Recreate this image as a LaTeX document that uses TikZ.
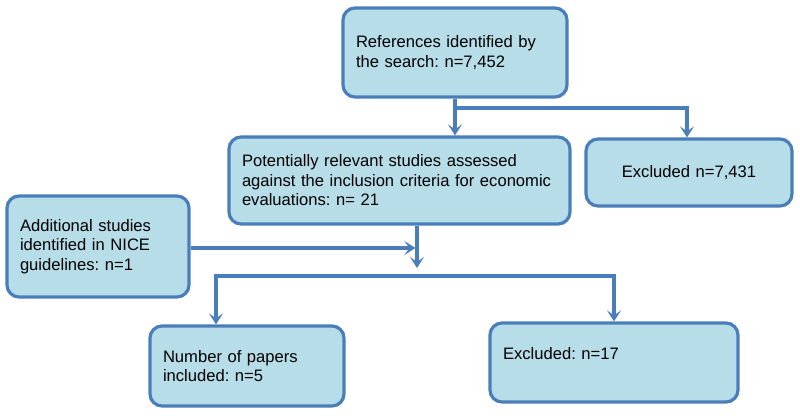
\documentclass[tikz,border=0pt]{standalone}
\usepackage{fontspec}
\setmainfont{Liberation Sans}
\usepackage{tikz}
\usetikzlibrary{arrows.meta, positioning, calc}
\definecolor{boxfill}{HTML}{B7DDE8}
\definecolor{boxline}{HTML}{4A7EBB}
\colorlet{flowline}{boxline}
\frenchspacing

\begin{document}
\begin{tikzpicture}[x=1pt, y=-1pt,
    stepbox/.style={draw=boxline, fill=boxfill, line width=3.2pt, rounded corners=12pt,
      inner xsep=13pt, inner ysep=2pt, align=left,
      font=\fontsize{16.6pt}{19.5pt}\selectfont},
    flowbar/.style={draw=flowline, line width=3.2pt},
    flow/.style={flowbar, -{Stealth[length=11pt, width=14pt, inset=5pt]}}]
    \useasboundingbox (0,0) rectangle (800,415);

    \node[stepbox, minimum width=224pt, minimum height=89pt, text width=198pt] (refs) at (455,52.5)
      {References identified by\\the search: n=7,452};
    \node[stepbox, minimum width=341pt, minimum height=87pt, text width=315pt] (assess) at (399.5,180.5)
      {Potentially relevant studies assessed\\against the inclusion criteria for economic\\evaluations: n= 21};
    \node[stepbox, align=center, minimum width=206pt, minimum height=67pt, text width=180pt] (excla) at (689,172.5)
      {Excluded n=7,431};
    \node[stepbox, minimum width=182pt, minimum height=101pt, text width=156pt] (added) at (98,246.5)
      {Additional studies\\identified in NICE\\guidelines: n=1};
    \node[stepbox, minimum width=194pt, minimum height=80pt, text width=168pt] (incl) at (247,366)
      {Number of papers\\included: n=5};
    \node[stepbox, minimum width=248pt, minimum height=79pt, text width=222pt, text depth=18pt] (exclb) at (614,362.5)
      {Excluded: n=17};

    \coordinate (splita) at (455,108);
    \draw[flowbar] (refs.south) -- (splita);
    \draw[flow] (splita) -- (splita |- assess.north);
    \draw[flow] (splita) -| ([xshift=-2pt]excla.north);

    \coordinate (drop) at (417,268);
    \draw[flow] (assess.south -| drop) -- (drop);
    \draw[flow, shorten >=1.6pt] ([yshift=-1.5pt]added.east) -- ([yshift=-1.5pt]added.east -| drop);

    \coordinate (splitb) at (417,276);
    \draw[flow] (splitb) -| ([xshift=-31pt]incl.north);
    \draw[flow] (splitb) -| (exclb.north);
  \end{tikzpicture}
\end{document}
